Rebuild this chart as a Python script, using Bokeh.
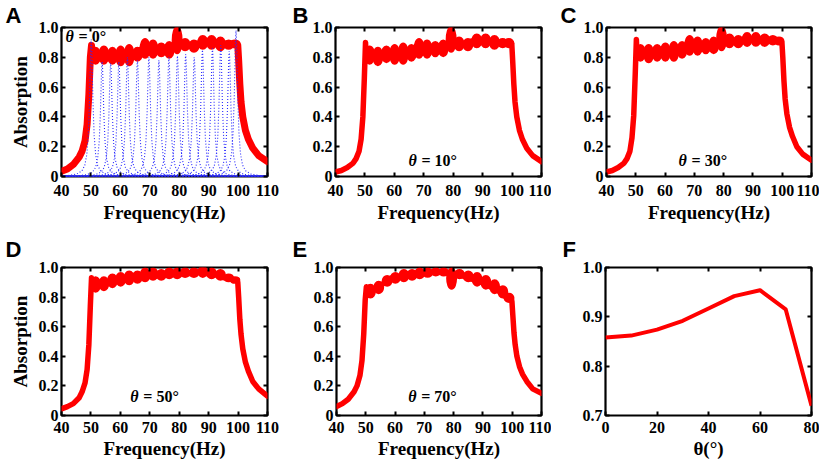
from bokeh.plotting import figure
from bokeh.models import Range1d, LinearAxis, FixedTicker, CustomJSTickFormatter, Label, Title
from bokeh.layouts import column, row
from bokeh.embed import file_html
from bokeh.resources import INLINE

RED = "#FF0000"
BLUE = "#2828FF"
SERIF = "Liberation Serif"
SANS = "Liberation Sans"

# ---------------- data ----------------
freq_ticks = [40, 50, 60, 70, 80, 90, 100, 110]
abs_ticks = [0, 0.2, 0.4, 0.6, 0.8, 1.0]

rise_f = [40, 42, 44, 46, 47, 48, 48.7, 49.3, 49.8, 50.2]
fall_f = [99.9, 100.2, 100.6, 101.0, 101.6, 102.5, 103.5, 105, 107, 110]
neck_f = [50.4, 53.0, 55.9, 58.7, 61.6, 64.4, 67.1, 69.8, 72.5, 75.3, 78.0,
          80.7, 83.5, 86.5, 89.5, 92.5, 95.4, 97.9, 99.7]
ctr_f = [51.6, 54.4, 57.3, 60.1, 63.0, 65.8, 68.4, 71.1, 73.9, 76.6, 79.3,
         82.0, 85.0, 88.0, 91.0, 94.0, 96.8, 98.9]

A_rise = [0.035, 0.05, 0.08, 0.13, 0.17, 0.24, 0.35, 0.55, 0.80, 0.88]
A_neck = [0.80, 0.81, 0.81, 0.81, 0.81, 0.82, 0.85, 0.85, 0.85, 0.85, 0.87, 0.88, 0.88, 0.89, 0.90, 0.90, 0.89, 0.89, 0.89]
A_top = [0.86, 0.87, 0.86, 0.87, 0.88, 0.86, 0.92, 0.91, 0.89, 0.90, 1.00, 0.92, 0.91, 0.94, 0.94, 0.93, 0.91, 0.91]
A_bot = [0.76, 0.76, 0.76, 0.75, 0.75, 0.78, 0.80, 0.80, 0.81, 0.80, 0.83, 0.85, 0.84, 0.86, 0.86, 0.85, 0.86, 0.87]
A_fall = [0.88, 0.78, 0.62, 0.50, 0.40, 0.31, 0.25, 0.19, 0.14, 0.10]

B_rise = [0.03, 0.04, 0.06, 0.09, 0.12, 0.17, 0.25, 0.40, 0.66, 0.90]
B_neck = [0.81, 0.81, 0.81, 0.82, 0.82, 0.83, 0.86, 0.86, 0.86, 0.86, 0.88, 0.89, 0.89, 0.91, 0.91, 0.90, 0.90, 0.90, 0.90]
B_top = [0.87, 0.86, 0.87, 0.88, 0.89, 0.88, 0.92, 0.91, 0.90, 0.91, 1.00, 0.93, 0.92, 0.95, 0.95, 0.94, 0.92, 0.92]
B_bot = [0.76, 0.75, 0.77, 0.76, 0.76, 0.78, 0.80, 0.80, 0.81, 0.81, 0.84, 0.85, 0.85, 0.87, 0.87, 0.86, 0.87, 0.87]
B_fall = [0.89, 0.78, 0.62, 0.50, 0.40, 0.31, 0.25, 0.19, 0.14, 0.10]

C_rise = [0.03, 0.04, 0.06, 0.09, 0.12, 0.17, 0.26, 0.41, 0.68, 0.92]
C_neck = [0.83, 0.83, 0.83, 0.84, 0.84, 0.85, 0.88, 0.88, 0.88, 0.88, 0.90, 0.91, 0.91, 0.92, 0.92, 0.92, 0.92, 0.91, 0.91]
C_top = [0.88, 0.88, 0.88, 0.89, 0.90, 0.90, 0.94, 0.93, 0.92, 0.93, 1.00, 0.95, 0.94, 0.96, 0.96, 0.95, 0.94, 0.93]
C_bot = [0.78, 0.77, 0.78, 0.78, 0.78, 0.80, 0.82, 0.82, 0.83, 0.83, 0.85, 0.87, 0.87, 0.88, 0.88, 0.88, 0.89, 0.89]
C_fall = [0.90, 0.80, 0.64, 0.52, 0.42, 0.33, 0.27, 0.20, 0.15, 0.11]

D_rise = [0.045, 0.06, 0.08, 0.12, 0.16, 0.22, 0.31, 0.48, 0.74, 0.93]
D_neck = [0.88, 0.89, 0.90, 0.92, 0.93, 0.93, 0.95, 0.95, 0.95, 0.96, 0.96, 0.96, 0.96, 0.97, 0.96, 0.95, 0.93, 0.92, 0.91]
D_top = [0.93, 0.93, 0.95, 0.96, 0.97, 0.97, 0.99, 0.99, 0.98, 0.99, 0.99, 0.99, 0.99, 1.00, 0.99, 0.98, 0.95, 0.93]
D_bot = [0.84, 0.85, 0.87, 0.88, 0.89, 0.90, 0.91, 0.92, 0.92, 0.93, 0.93, 0.94, 0.94, 0.94, 0.93, 0.92, 0.91, 0.90]
D_fall = [0.90, 0.80, 0.65, 0.55, 0.45, 0.36, 0.30, 0.23, 0.18, 0.13]

E_rise = [0.06, 0.08, 0.11, 0.16, 0.20, 0.27, 0.37, 0.55, 0.78, 0.87]
E_neck = [0.84, 0.85, 0.89, 0.93, 0.94, 0.95, 0.96, 0.96, 0.97, 0.97, 0.96, 0.95, 0.94, 0.92, 0.90, 0.87, 0.84, 0.80, 0.79]
E_top = [0.88, 0.90, 0.94, 0.96, 0.98, 0.98, 0.99, 0.99, 0.99, 0.99, 0.99, 0.98, 0.97, 0.96, 0.94, 0.91, 0.87, 0.82]
E_bot = [0.80, 0.83, 0.88, 0.90, 0.91, 0.92, 0.93, 0.94, 0.95, 0.95, 0.86, 0.93, 0.91, 0.88, 0.86, 0.83, 0.80, 0.77]
E_fall = [0.77, 0.68, 0.56, 0.48, 0.40, 0.33, 0.28, 0.23, 0.18, 0.15]

# single-resonator absorption peaks in panel A
peak_f = [50.1, 53.8, 56.7, 59.5, 62.4, 65.8, 69.7, 73.1, 76.5, 79.4, 82.2,
          85.1, 87.9, 91.3, 94.1, 97.0, 99.3]
peak_h = [0.92, 0.77, 0.76, 0.77, 0.80, 0.78, 0.80, 0.78, 0.80, 0.81, 0.82,
          0.80, 0.85, 0.86, 0.88, 0.84, 0.98]
shape_dx = [-70, -15, -8, -5, -3.2, -2.2, -1.5, -1.0, -0.6, -0.3, -0.15, 0,
            0.15, 0.3, 0.6, 1.0, 1.5, 2.2, 3.2, 5, 8, 15, 70]
shape_frac = [0.0005, 0.002, 0.007, 0.017, 0.04, 0.08, 0.16, 0.30, 0.54, 0.82, 0.95, 1.0,
              0.95, 0.82, 0.54, 0.30, 0.16, 0.08, 0.04, 0.017, 0.007, 0.002, 0.0005]

F_theta = [0, 10, 20, 30, 40, 50, 60, 70, 80]
F_abs = [0.858, 0.862, 0.874, 0.892, 0.917, 0.942, 0.954, 0.915, 0.720]
theta_ticks = [0, 20, 40, 60, 80]
F_yticks = [0.7, 0.8, 0.9, 1.0]

# ---------------- helpers ----------------
YFMT = "return tick == 0 ? '0' : tick.toFixed(1);"


def make_fig(xr, yr, xt, yt, left_b, right_b, top_b, bottom_b, fw, fh,
             xlabel, ylabel=None, lab_standoff=8, title_standoff=3):
    p = figure(frame_width=fw, frame_height=fh,
               x_range=Range1d(*xr), y_range=Range1d(*yr),
               output_backend="svg", toolbar_location=None,
               min_border_left=left_b, min_border_right=right_b,
               min_border_top=top_b, min_border_bottom=bottom_b)
    p.grid.visible = False
    p.outline_line_color = "black"
    p.outline_line_width = 2.2
    p.outline_line_alpha = 1
    p.background_fill_color = "white"
    p.border_fill_color = "white"

    xa = p.xaxis[0]
    xa.ticker = FixedTicker(ticks=xt)
    ya = p.yaxis[0]
    ya.ticker = FixedTicker(ticks=yt)
    ya.formatter = CustomJSTickFormatter(code=YFMT)
    for ax in (xa, ya):
        ax.axis_line_color = None
        ax.major_tick_in = 4
        ax.major_tick_out = 0
        ax.major_tick_line_width = 2
        ax.minor_tick_line_color = None
        ax.major_label_text_font = SERIF
        ax.major_label_text_font_style = "bold"
        ax.major_label_text_font_size = "16px"
        ax.major_label_text_color = "black"
        ax.axis_label_text_font = SERIF
        ax.axis_label_text_font_style = "bold"
        ax.axis_label_text_font_size = "19px"
        ax.axis_label_text_color = "black"
    xa.major_label_standoff = lab_standoff
    xa.axis_label_standoff = title_standoff
    xa.axis_label = xlabel
    ya.major_label_standoff = 3
    ya.axis_label_standoff = 5
    if ylabel:
        ya.axis_label = ylabel

    # mirrored ticks on top and right
    for loc, ticks in (("above", xt), ("right", yt)):
        ax = LinearAxis(ticker=FixedTicker(ticks=ticks),
                        formatter=CustomJSTickFormatter(code="return '';"))
        ax.axis_line_color = None
        ax.major_tick_in = 4
        ax.major_tick_out = 0
        ax.major_tick_line_width = 2
        ax.minor_tick_line_color = None
        ax.major_label_text_font_size = "0px"
        ax.major_label_standoff = 0
        p.add_layout(ax, loc)
    return p


def add_letter(p, txt, off, standoff):
    p.add_layout(Title(text=txt, align="left", offset=off, standoff=standoff,
                       text_font=SANS, text_font_style="bold",
                       text_font_size="22px", text_color="black"), "above")


def add_theta(p, x, y, rest):
    p.add_layout(Label(x=x, y=y, text="θ", text_font=SERIF,
                       text_font_style="bold italic", text_font_size="16px",
                       text_color="black"))
    p.add_layout(Label(x=x, y=y, x_offset=13, text=rest, text_font=SERIF,
                       text_font_style="bold", text_font_size="16px",
                       text_color="black"))


def draw_absorption(p, rise, neck, top, bot, fall, lw=5.5):
    p.line(rise_f + neck_f + fall_f, rise + neck + fall, color=RED,
           line_width=lw, line_join="round", line_cap="round")
    mids = [(t + b) / 2 for t, b in zip(top, bot)]
    hts = [t - b for t, b in zip(top, bot)]
    p.ellipse(x=ctr_f, y=mids, width=2.7, height=hts,
              fill_color=RED, line_color=RED, line_width=3)


# ---------------- panels ----------------
FW = 206
FH1, FH2 = 149, 148

pA = make_fig((40, 110), (0, 1), freq_ticks, abs_ticks, 61, 12, 25, 50, FW, FH1,
              "Frequency(Hz)", "Absorption")
blue_xs = [[c + d for d in shape_dx] for c in peak_f]
blue_ys = [[h * s for s in shape_frac] for h in peak_h]
draw_absorption(pA, A_rise, A_neck, A_top, A_bot, A_fall, lw=7)
pA.multi_line(blue_xs, blue_ys, line_color=BLUE, line_width=1.1, line_dash="1 2")
add_theta(pA, 41.4, 0.885, "= 0°")
add_letter(pA, "A", -56, 0)

pB = make_fig((40, 110), (0, 1), freq_ticks, abs_ticks, 56, 10, 25, 50, FW, FH1,
              "Frequency(Hz)")
draw_absorption(pB, B_rise, B_neck, B_top, B_bot, B_fall)
add_theta(pB, 64.8, 0.05, "= 10°")
add_letter(pB, "B", -43, 0)

pC = make_fig((40, 110), (0, 1), freq_ticks, abs_ticks, 55, 8, 25, 50, 205, FH1,
              "Frequency(Hz)")
draw_absorption(pC, C_rise, C_neck, C_top, C_bot, C_fall)
add_theta(pC, 64.6, 0.05, "= 30°")
add_letter(pC, "C", -46, 0)

pD = make_fig((40, 110), (0, 1), freq_ticks, abs_ticks, 61, 12, 41, 40, FW, FH2,
              "Frequency(Hz)", "Absorption", 6, 2)
draw_absorption(pD, D_rise, D_neck, D_top, D_bot, D_fall)
add_theta(pD, 63.4, 0.07, "= 50°")
add_letter(pD, "D", -56, 12)

pE = make_fig((40, 110), (0, 1), freq_ticks, abs_ticks, 57, 10, 41, 40, 205, FH2,
              "Frequency(Hz)", None, 6, 2)
draw_absorption(pE, E_rise, E_neck, E_top, E_bot, E_fall)
add_theta(pE, 64.5, 0.07, "= 70°")
add_letter(pE, "E", -44, 12)

pF = make_fig((0, 80), (0.7, 1.0), theta_ticks, F_yticks, 54, 8, 41, 40, 206, FH2,
              "θ(°)", None, 6, 2)
pF.line(F_theta, F_abs, color=RED, line_width=4, line_join="round")
add_letter(pF, "F", -43, 12)

layout = column(row(pA, pB, pC), row(pD, pE, pF))
open("out.html", "w").write(file_html(layout, INLINE))
